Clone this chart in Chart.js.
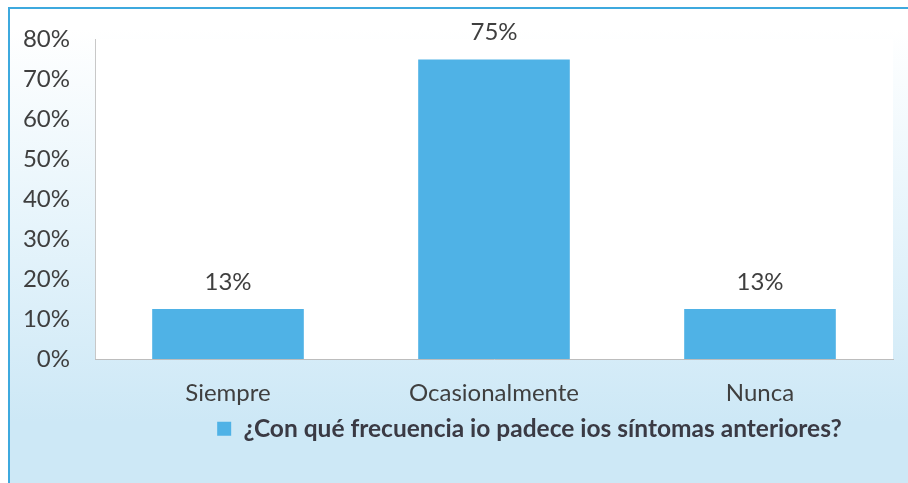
<!DOCTYPE html>
<html>
<head>
<meta charset="utf-8">
<script src="https://cdn.jsdelivr.net/npm/chart.js@4"></script>
<style>
  html, body { margin: 0; padding: 0; background: #fff; }
  body { width: 908px; height: 483px; position: relative; overflow: hidden; }
  #frame {
    position: absolute; left: 8px; top: 7px; right: -12px; bottom: -12px;
    border-left: 2px solid #3ea9de; border-top: 2px solid #3ea9de;
    background: linear-gradient(to bottom, #ffffff 4%, #e6f4fb 45%, #cde8f6 85%);
  }
  #wrap { position: absolute; left: 0; top: 0; width: 908px; height: 483px; }
</style>
</head>
<body>
<div id="frame"></div>
<div id="wrap"><canvas id="chart" width="908" height="483"></canvas></div>
<script>
var categories = ["Siempre", "Ocasionalmente", "Nunca"];
var values = [12.5, 75, 12.5];
var seriesName = "¿Con qué frecuencia io padece ios síntomas anteriores?";
var yTicks = [0, 10, 20, 30, 40, 50, 60, 70, 80];

var textColor = '#3f3f3f';
var barColor = '#4fb2e6';
var legendShift = 83; // legend sits right of centre in the original

// white plot area like the original
const plotBg = {
  id: 'plotBg',
  beforeDraw(chart) {
    const a = chart.chartArea;
    const ctx = chart.ctx;
    ctx.save();
    ctx.fillStyle = '#ffffff';
    ctx.fillRect(a.left, a.top, a.right - a.left, a.bottom - a.top);
    ctx.restore();
  }
};

// value labels on top of bars
const barLabels = {
  id: 'barLabels',
  afterDatasetsDraw(chart) {
    const ctx = chart.ctx;
    const meta = chart.getDatasetMeta(0);
    ctx.save();
    ctx.font = '24px Lato';
    ctx.fillStyle = textColor;
    ctx.textAlign = 'center';
    ctx.textBaseline = 'middle';
    meta.data.forEach(function (bar, i) {
      ctx.fillText(Math.round(values[i]) + '%', bar.x, bar.y - 27);
    });
    ctx.restore();
  }
};

const moveLegend = {
  id: 'moveLegend',
  afterLayout(chart) {
    chart.legend.left += legendShift;
    chart.legend.right += legendShift;
  }
};

Chart.defaults.font.family = 'Lato';
Chart.defaults.color = textColor;

new Chart(document.getElementById('chart'), {
  type: 'bar',
  data: {
    labels: categories,
    datasets: [{
      label: seriesName,
      data: values,
      backgroundColor: barColor,
      borderWidth: 0,
      barPercentage: 0.57,
      categoryPercentage: 1
    }]
  },
  options: {
    responsive: false,
    animation: false,
    devicePixelRatio: 1,
    layout: { padding: { top: 39, right: 15, bottom: 32, left: 0 } },
    scales: {
      y: {
        min: 0,
        max: 80,
        afterFit: function (scale) { scale.width = 95; },
        afterBuildTicks: function (scale) {
          scale.ticks = yTicks.map(v => ({ value: v }));
        },
        ticks: {
          font: { size: 24 },
          color: textColor,
          padding: 25,
          callback: v => v + '%'
        },
        grid: { display: false, drawTicks: false },
        border: { display: true, color: '#c8c8c8', width: 1 }
      },
      x: {
        afterFit: function (scale) { scale.height = 53.5; },
        ticks: { font: { size: 24 }, color: textColor, padding: 20 },
        grid: { display: false, drawTicks: false },
        border: { display: true, color: '#bdbdbd', width: 1 }
      }
    },
    plugins: {
      legend: {
        position: 'bottom',
        labels: {
          font: { size: 24.5, weight: 'bold' },
          color: '#3a3a44',
          boxWidth: 14,
          boxHeight: 14,
          padding: 4
        }
      },
      tooltip: { enabled: false }
    }
  },
  plugins: [plotBg, barLabels, moveLegend]
});
</script>
</body>
</html>
